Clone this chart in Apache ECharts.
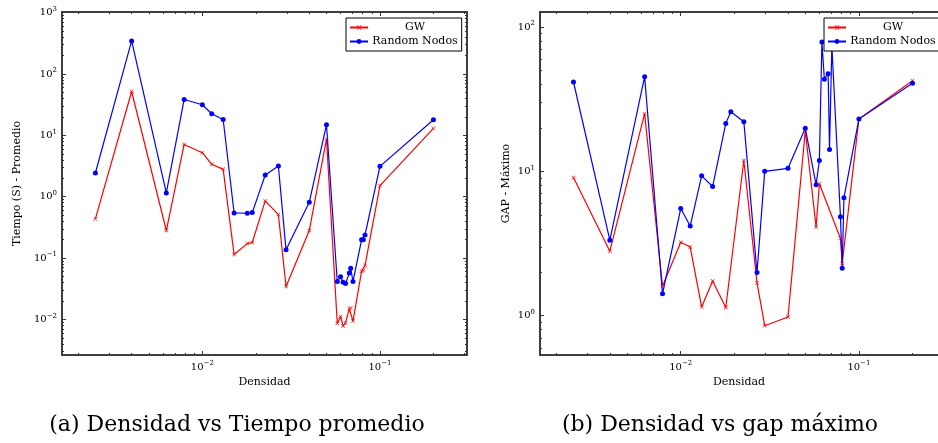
<!DOCTYPE html>
<html>
<head>
<meta charset="utf-8">
<script src="https://cdn.jsdelivr.net/npm/echarts@6/dist/echarts.min.js"></script>
<style>
  html, body { margin: 0; padding: 0; background: #fff; }
  #chart { width: 938px; height: 443px; }
</style>
</head>
<body>
<div id="chart"></div>
<script>
// densidad de cada instancia (eje x, escala log)
const densidad = [0.0025, 0.004, 0.00627, 0.0079, 0.01, 0.0113, 0.0131, 0.0151, 0.0179, 0.0191,
  0.0226, 0.0268, 0.0296, 0.040, 0.050, 0.0575, 0.060, 0.062, 0.064, 0.0672,
  0.0684, 0.0705, 0.0788, 0.0806, 0.0824, 0.1, 0.2];

// (a) tiempo promedio (s)
const tiempoGW = [0.434, 51.8, 0.281, 7.1, 5.21, 3.37, 2.79, 0.114, 0.172, 0.179,
  0.853, 0.511, 0.0344, 0.281, 8.69, 0.0086, 0.0112, 0.0078, 0.0088, 0.0149,
  0.0153, 0.0094, 0.061, 0.063, 0.0757, 1.51, 13.0];
const tiempoRandom = [2.43, 346, 1.15, 38.4, 31.5, 22.5, 18.1, 0.543, 0.537, 0.551,
  2.26, 3.16, 0.136, 0.81, 14.9, 0.0415, 0.0494, 0.0405, 0.0385, 0.0568,
  0.0684, 0.0415, 0.198, 0.198, 0.238, 3.12, 17.9];

// (b) gap maximo (null = sin punto)
const gapGW = [9.06, 2.80, 25.1, 1.60, 3.23, 2.99, 1.15, 1.74, 1.14, null,
  11.9, 1.69, 0.853, 0.98, 19.1, 4.11, 8.2, null, null, null,
  null, null, 3.43, 2.30, null, 23.1, 42.5];
const gapRandom = [41.6, 3.34, 45.3, 1.42, 5.53, 4.18, 9.31, 7.85, 21.5, 25.9,
  22.1, 1.99, 10.0, 10.5, 19.9, 8.07, 11.9, 78.7, 43.5, 47.5,
  14.2, 74, 4.84, 2.13, 6.56, 23.1, 40.7];

const seriesNames = ['GW', 'Random Nodos'];
const captions = ['(a) Densidad vs Tiempo promedio', '(b) Densidad vs gap máximo'];
const yTitles = ['Tiempo (S) - Promedio', 'GAP - Máximo'];
const xTitle = 'Densidad';

const FONT = 'DejaVu Serif';
// limites de los ejes en log10 (la figura b esta recortada a la derecha)
const xRanges = [[-2.79, -0.51], [-2.79, -0.556]];
const yRanges = [[-2.58, 3.01], [-0.272, 2.104]];
const grids = [
  { left: 62, top: 12, width: 405, height: 343 },
  { left: 540, top: 12, width: 398, height: 343 }
];

function decadeTicks(range) {
  const major = [], minor = [];
  for (let d = Math.floor(range[0]); d <= Math.ceil(range[1]); d++) {
    if (d >= range[0] && d <= range[1]) major.push(d);
    for (let k = 2; k <= 9; k++) {
      const v = d + Math.log10(k);
      if (v >= range[0] && v <= range[1]) minor.push(v);
    }
  }
  return { major, minor };
}

function powLabel(v) {
  const e = Math.round(v);
  return '{b|10}{e|' + (e < 0 ? '\u2212' + (-e) : e) + '}';
}

const labelRich = {
  b: { fontFamily: FONT, fontSize: 10, color: '#000' },
  e: { fontFamily: FONT, fontSize: 7, color: '#000', padding: [0, 0, 7, 0] }
};

// 4 ejes por dimension: principal/menor, abajo/arriba (o izq/der)
function makeAxes(dim, gridIndex, range, title, nameGap, hideFar) {
  const t = decadeTicks(range);
  const sides = dim === 'x' ? ['bottom', 'top'] : ['left', 'right'];
  const axes = [];
  sides.forEach((pos, s) => {
    [t.major, t.minor].forEach((vals, m) => {
      const ax = {
        type: 'value',
        gridIndex: gridIndex,
        position: pos,
        min: range[0],
        max: range[1],
        z: 6,
        show: !(hideFar && s === 1),
        splitLine: { show: false },
        axisLine: { show: m === 0, onZero: false, lineStyle: { color: '#333', width: 1.5 } },
        axisTick: { show: true, inside: true, length: m === 0 ? 4 : 2, customValues: vals, lineStyle: { color: '#333', width: 1 } },
        axisLabel: { show: false }
      };
      if (s === 0 && m === 0) {
        ax.axisLabel = { show: true, customValues: vals, formatter: powLabel, rich: labelRich, margin: 5 };
        ax.name = title;
        ax.nameLocation = 'middle';
        ax.nameGap = nameGap;
        ax.nameTextStyle = { fontFamily: FONT, fontSize: 11, color: '#000' };
      }
      axes.push(ax);
    });
  });
  return axes;
}

function points(vals) {
  return densidad
    .map((d, i) => (vals[i] == null ? null : [Math.log10(d), Math.log10(vals[i])]))
    .filter((p) => p);
}

const crossPath = 'path://M0,1L1,0L5,4L9,0L10,1L6,5L10,9L9,10L5,6L1,10L0,9L4,5Z';

function makeSeries(g, gw, rnd) {
  const xi = g * 4, yi = g * 4;
  return [
    {
      name: seriesNames[0], type: 'line', xAxisIndex: xi, yAxisIndex: yi,
      symbol: crossPath, symbolSize: 4,
      itemStyle: { color: '#ff0000' },
      lineStyle: { color: '#ff0000', width: 1.2 },
      data: points(gw)
    },
    {
      name: seriesNames[1], type: 'line', xAxisIndex: xi, yAxisIndex: yi,
      symbol: 'circle', symbolSize: 5,
      itemStyle: { color: '#0000ff' },
      lineStyle: { color: '#0000ff', width: 1.2 },
      data: points(rnd)
    }
  ];
}

function makeLegend(left) {
  return {
    data: seriesNames,
    orient: 'vertical',
    left: left,
    top: 18,
    z: 20,
    padding: [4, 4, 4, 3],
    itemGap: 3,
    itemWidth: 18,
    itemHeight: 6,
    backgroundColor: '#fff',
    borderColor: '#000',
    borderWidth: 1,
    borderRadius: 0,
    formatter: (name) => '{t|' + name + '}',
    textStyle: {
      fontFamily: FONT, fontSize: 11, color: '#000',
      rich: { t: { width: 84, height: 13, align: 'center', fontFamily: FONT, fontSize: 11, color: '#000' } }
    }
  };
}

function caption(text, cx) {
  return {
    type: 'text', x: cx, y: 425,
    style: { text: text, font: '22px "' + FONT + '"', fill: '#000', align: 'center', verticalAlign: 'middle' }
  };
}

// marco de cada grafico (lados superior y derecho)
function frame(g, extraRight) {
  return {
    type: 'rect', z: 50, silent: true,
    shape: { x: g.left, y: g.top, width: g.width + extraRight, height: g.height },
    style: { fill: 'none', stroke: '#333', lineWidth: 1.5 }
  };
}

const chart = echarts.init(document.getElementById('chart'), null, { renderer: 'canvas' });

chart.setOption({
  animation: false,
  backgroundColor: '#fff',
  grid: grids.map((g) => Object.assign({ outerBoundsMode: 'none' }, g)),
  xAxis: [].concat(
    makeAxes('x', 0, xRanges[0], xTitle, 22, false),
    makeAxes('x', 1, xRanges[1], xTitle, 22, false)
  ),
  yAxis: [].concat(
    makeAxes('y', 0, yRanges[0], yTitles[0], 39, false),
    makeAxes('y', 1, yRanges[1], yTitles[1], 28, true)
  ),
  legend: [makeLegend(346), makeLegend(824)],
  series: [].concat(
    makeSeries(0, tiempoGW, tiempoRandom),
    makeSeries(1, gapGW, gapRandom)
  ),
  graphic: [
    frame(grids[0], 0),
    frame(grids[1], 20),
    caption(captions[0], 237),
    caption(captions[1], 720)
  ]
});
</script>
</body>
</html>
